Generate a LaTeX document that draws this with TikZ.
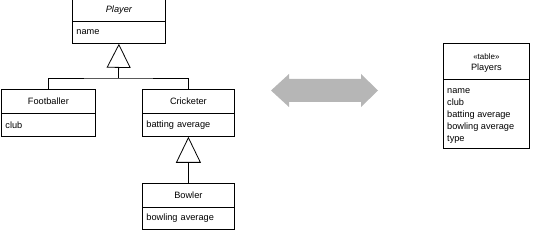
\documentclass[tikz,border=0pt]{standalone}
\usepackage{fontspec}
\setmainfont{Liberation Sans}
\usetikzlibrary{arrows.meta,shadows}
\definecolor{arrowgray}{RGB}{182,182,182}
\begin{document}
\begin{tikzpicture}[x=1pt,y=-1pt,
  box/.style={draw, line width=0.8pt, fill=white, inner sep=0pt,
    font=\fontsize{9.2}{11}\selectfont, anchor=north west,
    drop shadow={shadow xshift=1pt, shadow yshift=-1pt, opacity=1, fill=black}},
  titlebox/.style={box, align=center},
  attrbox/.style={box, align=left, inner xsep=4pt},
  inh/.style={line width=0.8pt, -{Triangle[open, width=24pt, length=24pt, line width=0.8pt]}},
  link/.style={line width=0.8pt}
]
\useasboundingbox (0,0) rectangle (540,245);
% Player
\node[titlebox, minimum width=93, minimum height=22] (playerT) at (72,-1) {\itshape Player};
\node[attrbox, minimum height=22, text width=85] (playerA) at (72,21) {name};
% Footballer
\node[titlebox, minimum width=94, minimum height=24] (footT) at (1,89) {Footballer};
\node[attrbox, minimum height=23, text width=86] (footA) at (1,113) {club};
% Cricketer
\node[titlebox, minimum width=92, minimum height=24] (cricT) at (142,89) {Cricketer};
\node[attrbox, minimum height=23, text width=84] (cricA) at (142,113) {batting average};
% Bowler
\node[titlebox, minimum width=92, minimum height=24] (bowlT) at (142,183) {Bowler};
\node[attrbox, minimum height=22, text width=84] (bowlA) at (142,207) {bowling average};
% Generalisation Player
\coordinate (j1) at (118.5,78);
\draw[link] (footT.north) |- (j1) -| (cricT.north);
\draw[inh] (j1) -- (playerA.south);
% Generalisation Cricketer
\draw[line width=0.8pt, -{Triangle[open, width=25pt, length=26pt, line width=0.8pt]}] (bowlT.north) -- (cricA.south);
% Double arrow
\fill[arrowgray] (271,90.5) -- (289,74) -- (289,79) -- (361,79) -- (361,74) -- (378,90.5)
  -- (361,107) -- (361,102) -- (289,102) -- (289,107) -- cycle;
% Table
\node[box, minimum width=86, minimum height=36] (tabT) at (443,43) {};
\node[inner sep=0pt, align=center, font=\fontsize{9.2}{11}\selectfont] (tabTitle) at ([yshift=-1.5pt]tabT.center)
  {{\fontsize{8}{9}\selectfont «table»}\\Players};
\node[box, minimum width=86, minimum height=69] (tabA) at (443,79) {};
\node[anchor=north west, inner sep=0pt, align=left, font=\fontsize{9.2}{12.2}\selectfont]
  (tabText) at (447,88) {name\\club\\batting average\\bowling average\\type};
\end{tikzpicture}
\end{document}
